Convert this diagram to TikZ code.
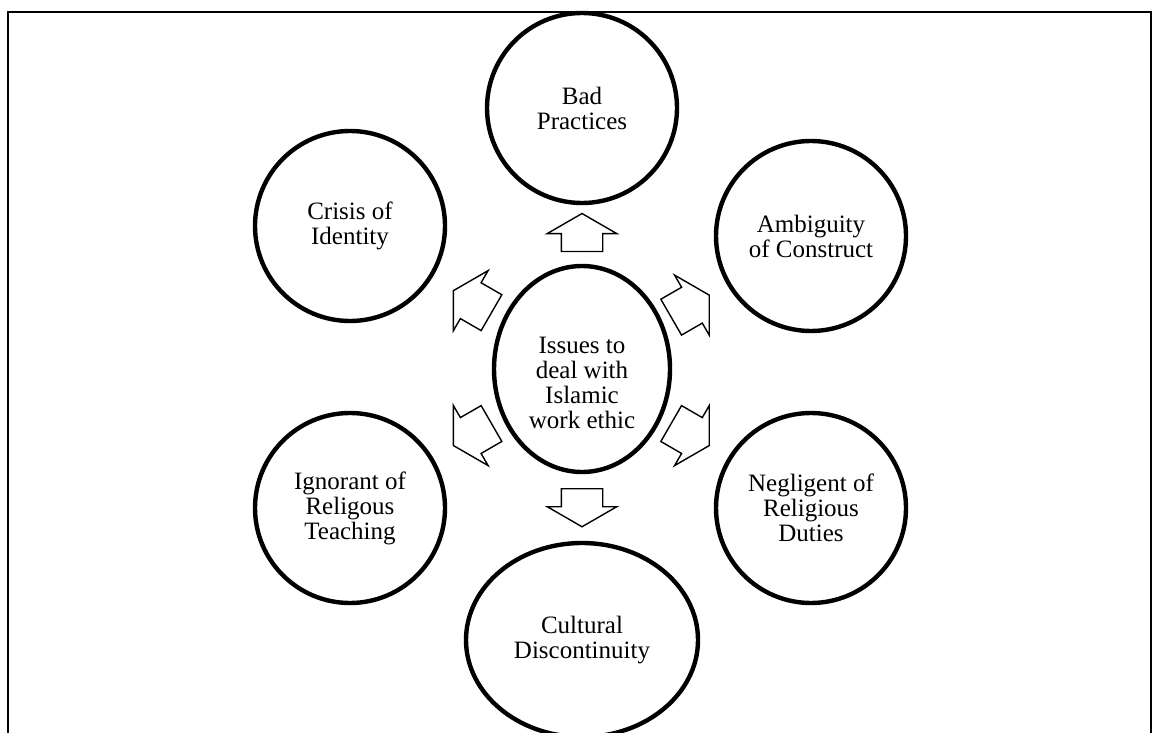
\documentclass[tikz,border=0pt]{standalone}
\usepackage{fontspec}
\setmainfont{Liberation Serif}
\usetikzlibrary{shapes.geometric,shapes.arrows,calc}

\begin{document}
\begin{tikzpicture}[x=0.5pt,y=-0.5pt,
    issue/.style={circle,draw,line width=2.2pt,minimum size=95pt,inner sep=0pt,
      align=center,font=\fontsize{12.5}{12.5}\selectfont},
    oval/.style={issue,ellipse},
    fat/.style={single arrow,draw,line width=0.7pt,fill=white,inner xsep=0pt,
      inner ysep=10pt,minimum height=19pt,single arrow head extend=7pt,
      single arrow tip angle=120},
    slant/.style={fat,minimum height=22pt}]
        \useasboundingbox (0,0) rectangle (1154,732);
        \draw[line width=1.2pt] (8,745) -- (8,12) -- (1151,12) -- (1151,745);

        \node[oval, minimum width=88pt, minimum height=103pt,
          label={[align=center,font=\fontsize{12.5}{12.5}\selectfont,yshift=-7pt]center:Issues to\\deal with\\Islamic\\work ethic}] (ethic) at (582,369) {};
        \node[issue] (bad) at (582,108) {Bad\\Practices};
        \node[issue] (amb) at (811,236) {Ambiguity\\of Construct};
        \node[issue] (crisis) at (350,226) {Crisis of\\Identity};
        \node[issue] (ign) at (350,508) {Ignorant of\\Religous\\Teaching};
        \node[issue] (negl) at (811,508) {Negligent of\\Religious\\Duties};
        \node[oval, minimum width=116pt, minimum height=97pt] (cult) at (582,640) {Cultural\\Discontinuity};

        \node[fat, rotate=90] (a1) at ($(ethic)!.5!(bad)$) {};
        \node[slant, rotate=30] (a2) at ($(ethic)!.45!(amb)$) {};
        \node[slant, rotate=-30] (a3) at ($(ethic)!.45!(negl)$) {};
        \node[fat, rotate=-90] (a4) at ($(ethic)!.49!(cult)$) {};
        \node[slant, rotate=210] (a5) at ($(ethic)!.45!(ign)$) {};
        \node[slant, rotate=150] (a6) at ($(ethic)!.45!(crisis)$) {};
      \end{tikzpicture}
\end{document}
